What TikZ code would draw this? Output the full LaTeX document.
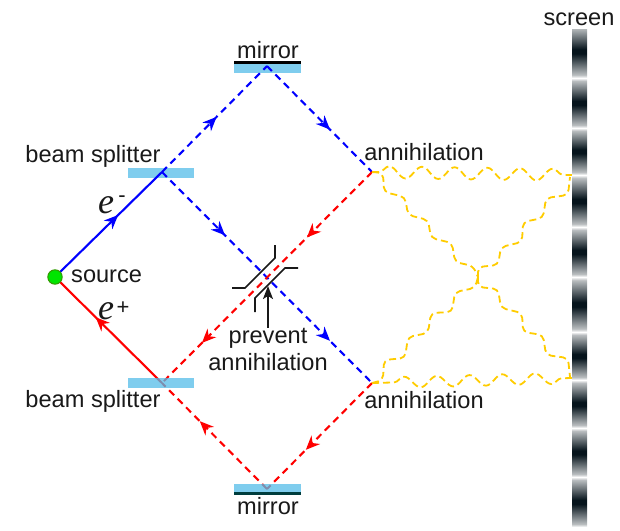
\documentclass[tikz,border=0pt]{standalone}
\usepackage{fontspec}
\setmainfont{Liberation Sans}
\newfontfamily\efont{Liberation Serif}
\usepackage{xcolor}
\usetikzlibrary{arrows.meta,decorations.markings,decorations.pathmorphing}
\definecolor{splitcolor}{HTML}{7FCDEE}
\definecolor{splittint}{HTML}{54BCE8}
\definecolor{photoncolor}{HTML}{FFCC00}
\definecolor{darkfringe}{HTML}{06141C}
\pgfdeclareverticalshading{fringe}{100bp}{
	color(0bp)=(white);
	color(25bp)=(white);
	color(28bp)=(darkfringe!28!white);
	color(48bp)=(darkfringe);
	color(52bp)=(darkfringe);
	color(72bp)=(darkfringe!28!white);
	color(75bp)=(white);
	color(100bp)=(white)
}
\tikzset{
	main/.style={line width=2.1pt, dash pattern=on 7pt off 5pt},
	tip/.style={postaction={decorate, decoration={markings, mark=at position #1 with {\arrow[solid]{Stealth[length=14pt, width=12pt, inset=4.5pt]}}}}},
	photon/.style={line width=1.8pt, color=photoncolor, dash pattern=on 7pt off 4pt, rounded corners=5pt},
	wave/.style={photon, rounded corners=0pt, decorate},
	lbl/.style={font=\fontsize{23.6}{27}\selectfont, text=black!90, inner sep=0pt},
	elbl/.style={font=\fontsize{36}{36}\selectfont\efont\itshape, text=black!90, inner sep=0pt},
	sign/.style={font=\fontsize{22}{22}\selectfont, text=black!90, inner sep=0pt},
	block/.style={line width=1.7pt, color=black!90}
}
\begin{document}
\begin{tikzpicture}[x=1pt, y=-1pt]
		\useasboundingbox (0,0) rectangle (620,530);
		\coordinate (source) at (55,277);
		\coordinate (splitup) at (162,172);
		\coordinate (splitlow) at (162,383);
		\coordinate (mirrorup) at (267,66);
		\coordinate (mirrorlow) at (267,489);
		\coordinate (annup) at (372,172);
		\coordinate (annlow) at (372,383);
		\coordinate (cross) at (478,277);
		
		\fill[splitcolor] (128,168) rectangle (194,178);
		\fill[splitcolor] (234,61) rectangle (301,73);
		\fill[black] (234,61) rectangle (301,63.5);
		
		\draw[main, blue, solid, tip=0.59] (source) -- (splitup);
		\draw[main, blue, tip=0.52] (splitup) -- (mirrorup);
		\draw[main, blue, tip=0.60] (mirrorup) -- (annup);
		\draw[main, blue, tip=0.30, tip=0.80] (splitup) -- (annlow);
		\draw[main, red, tip=0.31, tip=0.81] (annup) -- (splitlow);
		\draw[main, red, tip=0.63] (annlow) -- (mirrorlow);
		\draw[main, red, tip=0.64] (mirrorlow) -- (splitlow);
		\draw[main, red, solid, tip=0.62] (splitlow) -- (source);
		
		\fill[splittint, opacity=0.75] (128,378) rectangle (194,388);
		\fill[splittint, opacity=0.75] (234,484) rectangle (301,492);
		\fill[black!20!teal!60!black] (234,492) rectangle (301,495);
		
		\draw[wave, decoration={snake, segment length=32.7pt, amplitude=6pt, pre=lineto, pre length=7pt}] (annup) -- (573,175);
		\draw[wave, decoration={snake, segment length=32.7pt, amplitude=5.5pt, pre=lineto, pre length=22pt}] (annlow) -- (572,378);
		\draw[photon] (annup) --++(11,1) --++(1,19) --++(21,5) --++(3,18) --++(20,5) --++(3,18) --++(21,5) --++(3,19) --++(18,4) --++(5,11) (cross) --++(0,-10) --++(20,-2) --++(3,-18) --++(21,-5) --++(1,-20) --++(20,-4) --++(3,-20) --++(22,-3) --++(2,-18);
		\draw[photon] (annlow) --++(11,-3) --++(1,-20) --++(21,-2) --++(3,-21) --++(20,-4) --++(3,-20) --++(21,-1) --++(3,-20) --++(20,-4) --++(3,-11) (cross) --++(0,10) --++(20,2) --++(3,19) --++(21,5) --++(1,19) --++(20,3) --++(3,20) --++(22,3) --++(2,19);
		
		\begin{scope}
			\clip (572,29) rectangle (587,527);
			\foreach \ytop/\ybot in {25/78,78/128,128/175,175/227,227/277,277/332,332/380,380/428,428/477,477/527}
				\shade[shading=fringe] (572,\ytop) rectangle (587,\ybot);
		\end{scope}
		
		\draw[block] (232,288) --++(13,0) --++(30,-30) --++(0,-13);
		\draw[block] (255,312) --++(0,-14) --++(30,-30) --++(13,0);
		\node[lbl, align=center] (prevent) at (268,349) {prevent\\annihilation};
		\coordinate (preventtip) at (268,286);
		\draw[block, -{Stealth[length=13pt, width=10pt, inset=3pt]}] (prevent.north -| preventtip) -- (preventtip);
		
		\fill[green!90!black, draw=green!50!black!80!yellow, line width=1pt] (source) circle (7.2);
		\node[lbl, anchor=west] (sourcelabel) at (71,276) {source};
		\node[lbl] (splituplabel) at (93,156) {beam splitter};
		\node[lbl] (splitlowlabel) at (93,401) {beam splitter};
		\node[lbl] (mirroruplabel) at (268,50) {mirror};
		\node[lbl] (mirrorlowlabel) at (268,506) {mirror};
		\node[lbl] (annuplabel) at (424,152) {annihilation};
		\node[lbl] (annlowlabel) at (424,400) {annihilation};
		\node[lbl] (screenlabel) at (579,19) {screen};
		\node[elbl] (eminus) at (106,205) {e};
		\node[sign] (eminussign) at (122,199) {-};
		\node[elbl] (eplus) at (106,311) {e};
		\node[sign] (eplussign) at (123,308) {+};
	\end{tikzpicture}
\end{document}
